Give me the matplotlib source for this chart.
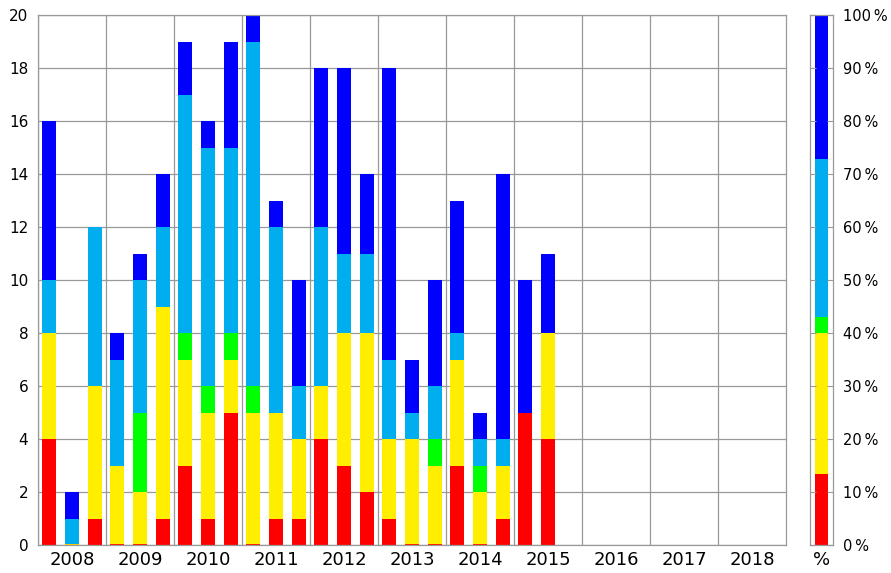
import numpy as np
import matplotlib
matplotlib.use('Agg')
import matplotlib.pyplot as plt

# Counts per third of a year, from 2008 T1 to 2015 T2
years = list(range(2008, 2019))
red = [4, 0, 1, 0, 0, 1, 3, 1, 5, 0, 1, 1, 4, 3, 2, 1, 0, 0, 3, 0, 1, 5, 4]
yellow = [4, 0, 5, 3, 2, 8, 4, 4, 2, 5, 4, 3, 2, 5, 6, 3, 4, 3, 4, 2, 2, 0, 4]
green = [0, 0, 0, 0, 3, 0, 1, 1, 1, 1, 0, 0, 0, 0, 0, 0, 0, 1, 0, 1, 0, 0, 0]
cyan = [2, 1, 6, 4, 5, 3, 9, 9, 7, 13, 7, 2, 6, 3, 3, 3, 1, 2, 1, 1, 1, 0, 0]
blue = [6, 1, 0, 1, 1, 2, 2, 1, 4, 1, 1, 4, 6, 7, 3, 11, 2, 4, 5, 1, 10, 5, 3]

series = [red, yellow, green, cyan, blue]
colors = ['#ff0000', '#ffee00', '#00ff00', '#00adef', '#0000ff']
grid_col = '#999999'

fig = plt.figure(figsize=(8.91, 5.73), dpi=100)
W, H = 891, 573

# main chart
ax = fig.add_axes([38 / W, 28 / H, 748 / W, 530 / H])
x = years[0] + (np.arange(len(red)) + 0.5) / 3
bottom = np.zeros(len(red))
for k, (vals, col) in enumerate(zip(series, colors)):
    vals = np.array(vals, dtype=float)
    ax.bar(x, vals, width=0.205, bottom=bottom, color=col, linewidth=0, zorder=2)
    # empty red / yellow segments at the base still leave a thin line
    if k < 2:
        empty = (vals == 0) & (bottom == 0)
        ax.bar(x[empty], vals[empty], width=0.205, bottom=bottom[empty],
               facecolor='none', edgecolor=col, linewidth=1.2, zorder=3)
    bottom += vals

ax.set_xlim(years[0], years[-1] + 1)
ax.set_ylim(0, 20)
ax.set_xticks(years)
ax.set_xticklabels([])
ax.set_xticks(np.array(years) + 0.5, minor=True)
ax.set_xticklabels([str(y) for y in years], minor=True, fontsize=13)
ax.set_yticks(range(0, 21, 2))
ax.tick_params(axis='y', length=0, pad=7, labelsize=11)
ax.tick_params(axis='x', which='both', length=0, pad=4)
ax.grid(True, color=grid_col, linewidth=0.9, zorder=0)
ax.set_axisbelow(True)
for s in ax.spines.values():
    s.set_color(grid_col)
    s.set_linewidth(0.9)

# share of each colour over all periods
totals = np.array([sum(v) for v in series], dtype=float)
shares = totals / totals.sum() * 100

ax2 = fig.add_axes([810 / W, 28 / H, 23 / W, 530 / H])
b = 0
for sh, col in zip(shares, colors):
    ax2.bar(0, sh, width=0.6, bottom=b, color=col, linewidth=0)
    b += sh
ax2.set_xlim(-0.5, 0.5)
ax2.set_ylim(0, 100)
ax2.set_xticks([])
ax2.set_yticks(range(0, 101, 10))
ax2.set_yticklabels([f'{v}\u2009%' for v in range(0, 101, 10)])
ax2.yaxis.tick_right()
ax2.tick_params(axis='y', which='both', direction='in', length=4, color=grid_col,
                left=True, right=True, labelleft=False, labelright=True,
                labelsize=10.5, pad=7)
ax2.set_xlabel('%', fontsize=13, labelpad=4)
for s in ax2.spines.values():
    s.set_color(grid_col)
    s.set_linewidth(0.9)

fig.savefig('out.png', dpi=100)
